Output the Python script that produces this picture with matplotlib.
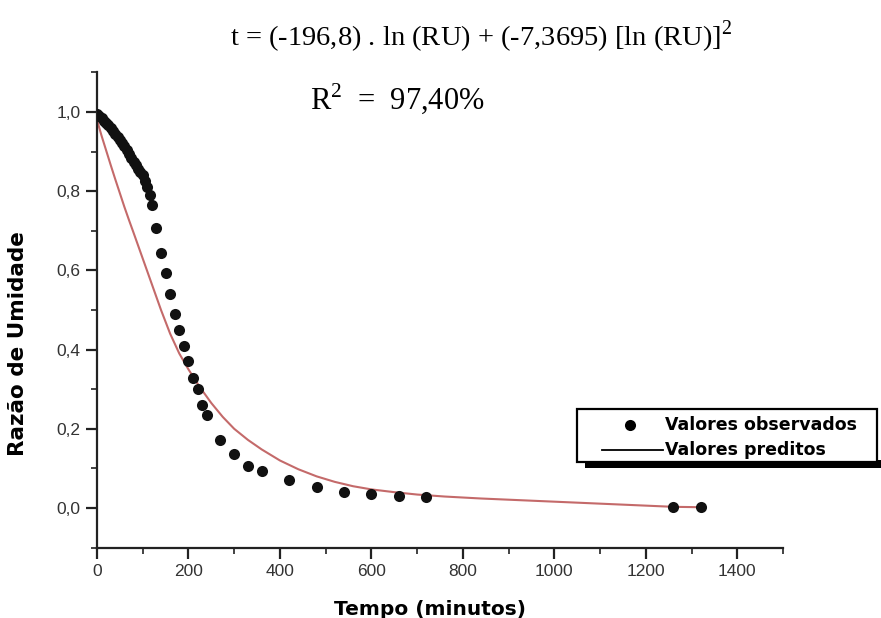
import matplotlib
matplotlib.use("Agg")
import matplotlib.pyplot as plt
from matplotlib.lines import Line2D
from matplotlib.patches import Rectangle
from matplotlib.ticker import MultipleLocator, FuncFormatter

# dados observados (tempo em minutos, razao de umidade)
tempo_obs = [0, 5, 10, 15, 20, 25, 30, 35, 40, 45, 50, 55, 60, 65, 70, 75, 80, 85,
             90, 95, 100, 105, 110, 115, 120,
             130, 140, 150, 160, 170, 180, 190, 200, 210, 220, 230, 240,
             270, 300, 330, 360, 420, 480, 540, 600, 660, 720, 1260, 1320]
ru_obs = [0.995, 0.99, 0.985, 0.978, 0.972, 0.966, 0.96, 0.953, 0.945, 0.937, 0.93,
          0.922, 0.913, 0.904, 0.895, 0.885, 0.875, 0.866, 0.856, 0.848, 0.84,
          0.826, 0.81, 0.79, 0.765,
          0.708, 0.645, 0.594, 0.54, 0.49, 0.45, 0.41, 0.371, 0.329, 0.30, 0.26, 0.236,
          0.173, 0.137, 0.106, 0.093, 0.072, 0.053, 0.040, 0.035, 0.030, 0.028, 0.003, 0.002]

# curva do modelo
tempo_pred = [0, 10, 20, 30, 40, 50, 60, 70, 80, 100, 120, 140, 160, 180, 200, 225,
              250, 275, 300, 330, 360, 400, 440, 480, 520, 560, 600, 650, 700, 760,
              840, 920, 1000, 1100, 1200, 1260, 1320]
ru_pred = [0.98, 0.94, 0.903, 0.866, 0.83, 0.795, 0.76, 0.727, 0.695, 0.63, 0.565,
           0.50, 0.44, 0.39, 0.35, 0.305, 0.265, 0.23, 0.20, 0.172, 0.148, 0.12, 0.098,
           0.08, 0.066, 0.055, 0.047, 0.04, 0.034, 0.029, 0.024, 0.02, 0.016, 0.011,
           0.006, 0.003, 0.002]

x_ticks = [0, 200, 400, 600, 800, 1000, 1200, 1400]
y_ticks = [0.0, 0.2, 0.4, 0.6, 0.8, 1.0]

plt.rcParams['mathtext.fontset'] = 'custom'
plt.rcParams['mathtext.rm'] = 'Liberation Serif'

fig = plt.figure(figsize=(8.81, 6.18), dpi=100)
ax = fig.add_axes([0.1101, 0.1139, 0.7787, 0.7689])

ax.plot(tempo_pred, ru_pred, color='#c46a6a', lw=1.5, zorder=2)
ax.plot(tempo_obs, ru_obs, 'o', color='#111111', ms=8, mec='none', zorder=3)

ax.set_xlim(0, 1500)
ax.set_ylim(-0.1, 1.1)
ax.set_xticks(x_ticks)
ax.set_yticks(y_ticks)
ax.xaxis.set_minor_locator(MultipleLocator(100))
ax.yaxis.set_minor_locator(MultipleLocator(0.1))
ax.yaxis.set_major_formatter(FuncFormatter(lambda v, p: ('%.1f' % v).replace('.', ',')))

for s in ['top', 'right']:
    ax.spines[s].set_visible(False)
for s in ['left', 'bottom']:
    ax.spines[s].set_linewidth(1.6)
    ax.spines[s].set_color('#222222')

ax.tick_params(which='major', direction='out', length=8, width=1.6, color='#222222',
               labelsize=12.5, labelcolor='#333333', pad=4)
ax.tick_params(which='minor', direction='out', length=4, width=1.2, color='#222222')
for lab in ax.get_xticklabels() + ax.get_yticklabels():
    lab.set_family('Liberation Sans')

ax.set_xlabel('Tempo (minutos)', fontsize=14.5, fontweight='bold', family='DejaVu Sans')
ax.set_ylabel('Razão de Umidade', fontsize=15.5, fontweight='bold', family='DejaVu Sans')
ax.xaxis.set_label_coords(0.485, -0.11)
ax.yaxis.set_label_coords(-0.1, 0.43)

fig.text(0.546, 0.94, r't = (-196,8) . ln (RU) + (-7,3695) [ln (RU)]$^\mathregular{2}$',
         family='Liberation Serif', fontsize=20.5, ha='center', va='center')
fig.text(0.451, 0.84, r'R$^\mathregular{2}$  =  97,40%', family='Liberation Serif',
         fontsize=22, ha='center', va='center')

# legenda desenhada a mao (caixa com sombra preta embaixo)
W, H = 881.0, 618.0
fig.add_artist(Rectangle((585 / W, 1 - 468 / H), 300 / W, 8 / H, transform=fig.transFigure,
                         facecolor='black', edgecolor='none', clip_on=False))
fig.add_artist(Rectangle((577 / W, 1 - 462 / H), 300 / W, 53 / H, transform=fig.transFigure,
                         facecolor='white', edgecolor='black', lw=1.6, clip_on=False))
fig.add_artist(Line2D([630 / W], [1 - 425 / H], marker='o', ms=8, color='black',
                      mec='none', transform=fig.transFigure))
fig.add_artist(Line2D([602 / W, 663 / W], [1 - 450 / H, 1 - 450 / H], color='black',
                      lw=1.3, transform=fig.transFigure))
fig.text(665 / W, 1 - 425 / H, 'Valores observados', fontsize=12.5, fontweight='bold',
         family='DejaVu Sans', va='center', ha='left')
fig.text(665 / W, 1 - 450 / H, 'Valores preditos', fontsize=12.5, fontweight='bold',
         family='DejaVu Sans', va='center', ha='left')

fig.savefig('out.png', dpi=100)
